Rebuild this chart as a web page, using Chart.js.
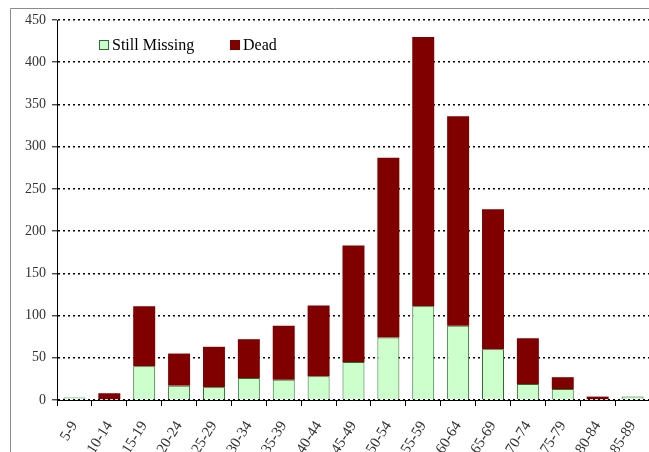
<!DOCTYPE html>
<html>
<head>
<meta charset="utf-8">
<script src="https://cdn.jsdelivr.net/npm/chart.js@4.4.0/dist/chart.umd.min.js"></script>
<style>
  html, body { margin: 0; padding: 0; background: #fff; overflow: hidden; }
  #wrap { position: relative; width: 660px; height: 452px; }
</style>
</head>
<body>
<div id="wrap"><canvas id="chart" width="660" height="452"></canvas></div>
<script>
// 연령대 (x축 카테고리)
const ageGroups = ['5-9', '10-14', '15-19', '20-24', '25-29', '30-34', '35-39', '40-44', '45-49',
                   '50-54', '55-59', '60-64', '65-69', '70-74', '75-79', '80-84', '85-89'];
// 실종자 수 (아래쪽 막대)
const stillMissing = [3, 0, 40, 17, 15, 26, 24, 28, 45, 74, 111, 88, 60, 19, 13, 0, 4];
// 사망자 수 (위에 쌓이는 막대)
const dead = [0, 8, 71, 38, 48, 46, 64, 84, 138, 213, 319, 248, 166, 54, 14, 4, 0];
// y축 눈금
const yMin = 0, yMax = 450, yStep = 50;

const serif = '"Liberation Serif", "Times New Roman", serif';

// 바깥 회색 테두리
const framePlugin = {
  id: 'frame',
  beforeDraw(chart) {
    const ctx = chart.ctx;
    ctx.save();
    ctx.strokeStyle = '#8c8c8c';
    ctx.lineWidth = 1;
    ctx.beginPath();
    ctx.moveTo(10.5, chart.height);
    ctx.lineTo(10.5, 8.5);
    ctx.lineTo(chart.width, 8.5);
    ctx.stroke();
    ctx.restore();
  }
};

// 차트 안쪽 왼쪽 위 범례
const legendPlugin = {
  id: 'insideLegend',
  afterDraw(chart) {
    const ctx = chart.ctx;
    const area = chart.chartArea;
    const y = area.top + 25;
    const items = [
      { x: area.left + 42, ds: chart.data.datasets[0] },
      { x: area.left + 173, ds: chart.data.datasets[1] }
    ];
    ctx.save();
    ctx.font = '16px ' + serif;
    ctx.textBaseline = 'middle';
    items.forEach(it => {
      ctx.fillStyle = it.ds.backgroundColor;
      ctx.fillRect(it.x, y - 5, 10, 10);
      ctx.strokeStyle = it.ds.borderWidth ? it.ds.borderColor : it.ds.backgroundColor;
      ctx.lineWidth = 1;
      ctx.strokeRect(it.x + 0.5, y - 4.5, 9, 9);
      ctx.fillStyle = '#000';
      ctx.fillText(it.ds.label, it.x + 13, y + 1);
    });
    ctx.restore();
  }
};

new Chart(document.getElementById('chart'), {
  type: 'bar',
  data: {
    labels: ageGroups,
    datasets: [
      {
        label: 'Still Missing',
        data: stillMissing,
        backgroundColor: '#ccffcc',
        borderColor: '#2a6e2d',
        borderWidth: 1,
        barPercentage: 0.63,
        categoryPercentage: 1
      },
      {
        label: 'Dead',
        data: dead,
        backgroundColor: '#800000',
        borderWidth: 0,
        barPercentage: 0.63,
        categoryPercentage: 1
      }
    ]
  },
  options: {
    responsive: false,
    animation: false,
    devicePixelRatio: 1,
    layout: { padding: { left: 10, top: 20, right: 7, bottom: 0 } },
    plugins: {
      legend: { display: false },
      tooltip: { enabled: false }
    },
    scales: {
      x: {
        stacked: true,
        afterFit(s) { s.height = 52; },
        grid: {
          display: true,
          offset: true,
          drawOnChartArea: false,
          drawTicks: true,
          tickLength: 6,
          color: '#000',
          tickWidth: 1
        },
        border: { display: true, color: '#000', width: 1 },
        ticks: {
          autoSkip: false,
          minRotation: 58,
          maxRotation: 58,
          padding: 12,
          color: '#333',
          font: { family: serif, size: 15 }
        }
      },
      y: {
        stacked: true,
        min: yMin,
        max: yMax,
        afterFit(s) { s.width = 47; },
        grid: {
          color: '#000',
          lineWidth: 1.6,
          tickLength: 5,
          tickColor: '#000',
          tickWidth: 1
        },
        border: { display: true, color: '#000', width: 1, dash: [2, 3] },
        ticks: {
          stepSize: yStep,
          padding: 6,
          color: '#333',
          font: { family: serif, size: 14 }
        }
      }
    }
  },
  plugins: [framePlugin, legendPlugin]
});
</script>
</body>
</html>
